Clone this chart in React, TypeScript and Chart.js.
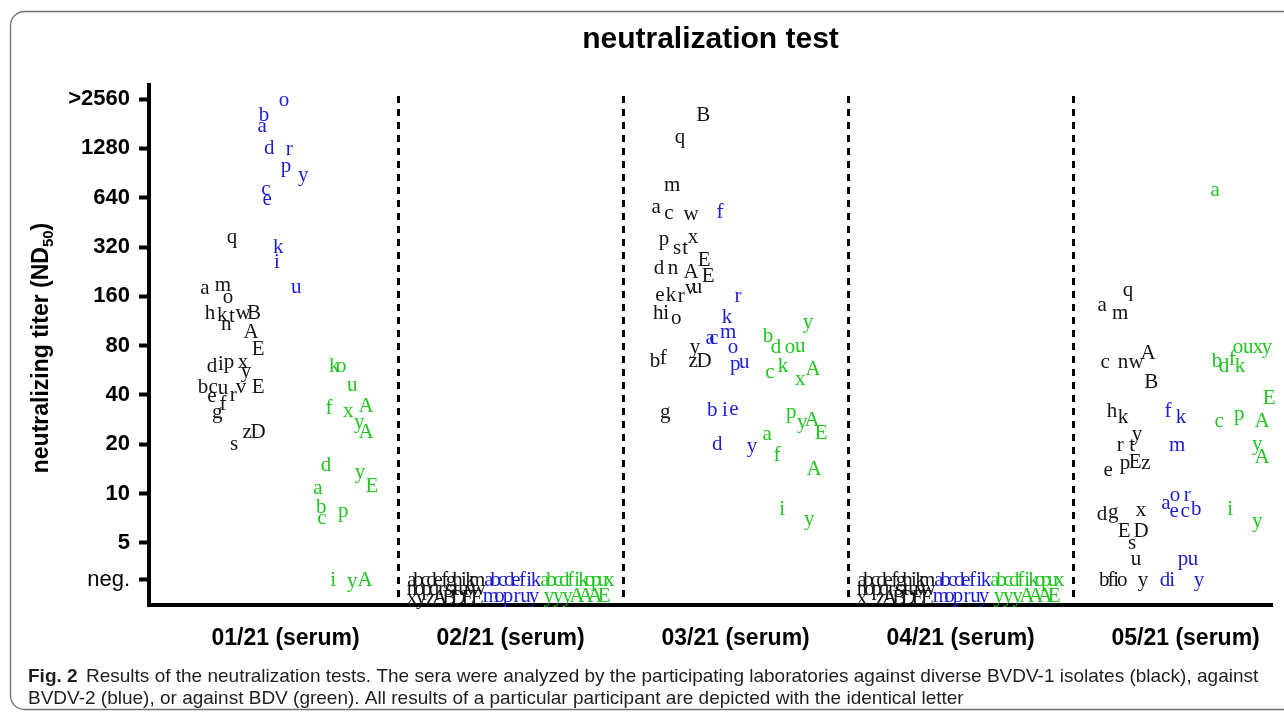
import React, { useEffect, useRef } from "react";
import { Chart, registerables } from "chart.js";

Chart.register(...registerables);

// ---------- text ----------
const TITLE = "neutralization test";
const Y_TITLE_MAIN = "neutralizing titer (ND";
const Y_TITLE_SUB = "50";
const Y_TITLE_END = ")";
const CATEGORY_LABELS = ["01/21 (serum)", "02/21 (serum)", "03/21 (serum)", "04/21 (serum)", "05/21 (serum)"];
const CATEGORY_POS = [0.5, 1.5, 2.5, 3.5, 4.5];
const SEPARATORS = [1, 2, 3, 4];
// y positions on the doubling-dilution scale: 5 = 1, 10 = 2, ... 2560 = 10, neg. = 0.25
const Y_TICK_VALUES = [0.25, 1, 2, 3, 4, 5, 6, 7, 8, 9, 10];
const Y_TICK_LABELS = ["neg.", "5", "10", "20", "40", "80", "160", "320", "640", "1280", ">2560"];
const CAPTION_BOLD = "Fig. 2";
const CAPTION_1 = "Results of the neutralization tests. The sera were analyzed by the participating laboratories against diverse BVDV-1 isolates (black), against";
const CAPTION_2 = "BVDV-2 (blue), or against BDV (green). All results of a particular participant are depicted with the identical letter";

// ---------- data: 01/21 ----------
const g1BlackLetters = "amohkntwBAEdipxybceurvEgfzDsq";
const g1BlackX = [0.142, 0.222, 0.244, 0.164, 0.218, 0.236, 0.262, 0.311, 0.36, 0.347, 0.378, 0.173, 0.213, 0.249, 0.311, 0.324, 0.133, 0.178, 0.173, 0.222, 0.267, 0.302, 0.378, 0.196, 0.222, 0.329, 0.378, 0.271, 0.262];
const g1BlackY = [6.15, 6.23, 5.97, 5.66, 5.62, 5.42, 5.6, 5.66, 5.66, 5.26, 4.93, 4.57, 4.61, 4.65, 4.65, 4.47, 4.16, 4.16, 3.96, 4.14, 3.98, 4.16, 4.16, 3.64, 3.8, 3.23, 3.25, 2.99, 7.2];
const g1BlueLetters = "obadrpyceiku";
const g1BlueX = [0.493, 0.404, 0.396, 0.427, 0.516, 0.502, 0.578, 0.413, 0.418, 0.462, 0.467, 0.547];
const g1BlueY = [9.98, 9.66, 9.45, 8.99, 8.97, 8.64, 8.44, 8.16, 7.97, 6.68, 7.0, 6.17];
const g1GreenLetters = "koufxAyAdyEabcpiyA";
const g1GreenX = [0.716, 0.747, 0.796, 0.693, 0.778, 0.858, 0.827, 0.858, 0.68, 0.831, 0.884, 0.644, 0.658, 0.662, 0.756, 0.711, 0.796, 0.853];
const g1GreenY = [4.57, 4.57, 4.2, 3.72, 3.66, 3.76, 3.45, 3.25, 2.58, 2.42, 2.14, 2.11, 1.71, 1.49, 1.63, 0.25, 0.21, 0.25];

// ---------- data: 02/21 ----------
const g2BlackLetters = "abcdefghikmnopqrstuvwxyzABDEE";
const g2BlackX = [1.062, 1.091, 1.12, 1.149, 1.178, 1.207, 1.235, 1.264, 1.293, 1.322, 1.351, 1.062, 1.095, 1.127, 1.16, 1.193, 1.225, 1.258, 1.291, 1.323, 1.356, 1.062, 1.103, 1.145, 1.186, 1.227, 1.268, 1.31, 1.351];
const g2BlackY = [0.25, 0.25, 0.25, 0.25, 0.25, 0.25, 0.25, 0.25, 0.25, 0.25, 0.25, 0.05, 0.05, 0.05, 0.05, 0.05, 0.05, 0.05, 0.05, 0.05, 0.05, -0.12, -0.12, -0.12, -0.12, -0.12, -0.12, -0.12, -0.12];
const g2BlueLetters = "abcdefikmopruy";
const g2BlueX = [1.404, 1.434, 1.464, 1.494, 1.524, 1.553, 1.583, 1.613, 1.413, 1.451, 1.489, 1.528, 1.566, 1.604];
const g2BlueY = [0.25, 0.25, 0.25, 0.25, 0.25, 0.25, 0.25, 0.25, -0.09, -0.09, -0.09, -0.09, -0.09, -0.09];
const g2GreenLetters = "abcdfikopuxyyyAAAE";
const g2GreenX = [1.653, 1.682, 1.71, 1.739, 1.767, 1.796, 1.824, 1.853, 1.881, 1.91, 1.938, 1.671, 1.712, 1.753, 1.794, 1.834, 1.875, 1.916];
const g2GreenY = [0.25, 0.25, 0.25, 0.25, 0.25, 0.25, 0.25, 0.25, 0.25, 0.25, 0.25, -0.09, -0.09, -0.09, -0.09, -0.09, -0.09, -0.09];

// ---------- data: 03/21 ----------
const g3BlackLetters = "BqmacwpstxdnAEEekrvuhioyzDbfg";
const g3BlackX = [2.356, 2.253, 2.218, 2.147, 2.204, 2.302, 2.182, 2.24, 2.276, 2.311, 2.16, 2.222, 2.302, 2.36, 2.378, 2.164, 2.213, 2.258, 2.298, 2.329, 2.156, 2.191, 2.236, 2.32, 2.311, 2.36, 2.142, 2.178, 2.187];
const g3BlackY = [9.66, 9.21, 8.24, 7.81, 7.67, 7.65, 7.16, 6.98, 6.98, 7.2, 6.57, 6.57, 6.49, 6.72, 6.41, 6.01, 6.01, 5.99, 6.15, 6.17, 5.66, 5.66, 5.56, 4.97, 4.67, 4.67, 4.67, 4.75, 3.64];
const g3BlueLetters = "frkacmopubiedy";
const g3BlueX = [2.431, 2.511, 2.462, 2.387, 2.404, 2.467, 2.489, 2.498, 2.538, 2.396, 2.453, 2.493, 2.418, 2.573];
const g3BlueY = [7.69, 5.99, 5.58, 5.14, 5.14, 5.26, 4.97, 4.61, 4.65, 3.68, 3.68, 3.7, 2.99, 2.95];
const g3GreenLetters = "bdouyckxApyAEafAiy";
const g3GreenX = [2.644, 2.68, 2.742, 2.787, 2.822, 2.653, 2.711, 2.787, 2.844, 2.747, 2.796, 2.84, 2.88, 2.64, 2.684, 2.849, 2.707, 2.827];
const g3GreenY = [5.18, 4.97, 4.97, 4.99, 5.46, 4.45, 4.57, 4.32, 4.51, 3.64, 3.45, 3.49, 3.21, 3.19, 2.78, 2.48, 1.67, 1.47];

// ---------- data: 04/21 ----------
const g4BlackLetters = "abcdefghikmnopqrstuvwxzABDEE";
const g4BlackX = [3.062, 3.091, 3.12, 3.149, 3.178, 3.207, 3.235, 3.264, 3.293, 3.322, 3.351, 3.062, 3.095, 3.127, 3.16, 3.193, 3.225, 3.258, 3.291, 3.323, 3.356, 3.062, 3.145, 3.186, 3.227, 3.268, 3.31, 3.351];
const g4BlackY = [0.25, 0.25, 0.25, 0.25, 0.25, 0.25, 0.25, 0.25, 0.25, 0.25, 0.25, 0.05, 0.05, 0.05, 0.05, 0.05, 0.05, 0.05, 0.05, 0.05, 0.05, -0.12, -0.12, -0.12, -0.12, -0.12, -0.12, -0.12];
const g4BlueLetters = "abcdefikmopruy";
const g4BlueX = [3.404, 3.434, 3.464, 3.494, 3.524, 3.553, 3.583, 3.613, 3.413, 3.451, 3.489, 3.528, 3.566, 3.604];
const g4BlueY = [0.25, 0.25, 0.25, 0.25, 0.25, 0.25, 0.25, 0.25, -0.09, -0.09, -0.09, -0.09, -0.09, -0.09];
const g4GreenLetters = "abcdfikopuxyyyAAAE";
const g4GreenX = [3.653, 3.682, 3.71, 3.739, 3.767, 3.796, 3.824, 3.853, 3.881, 3.91, 3.938, 3.671, 3.712, 3.753, 3.794, 3.834, 3.875, 3.916];
const g4GreenY = [0.25, 0.25, 0.25, 0.25, 0.25, 0.25, 0.25, 0.25, 0.25, 0.25, 0.25, -0.09, -0.09, -0.09, -0.09, -0.09, -0.09, -0.09];

// ---------- data: 05/21 ----------
const g5BlackLetters = "qamcnwABhkrtyepEzdgxEDsubfioy";
const g5BlackX = [4.244, 4.129, 4.209, 4.142, 4.222, 4.28, 4.333, 4.347, 4.173, 4.222, 4.209, 4.262, 4.284, 4.156, 4.231, 4.276, 4.324, 4.129, 4.178, 4.302, 4.227, 4.302, 4.262, 4.28, 4.138, 4.169, 4.191, 4.218, 4.311];
const g5BlackY = [6.11, 5.82, 5.66, 4.65, 4.65, 4.65, 4.85, 4.26, 3.66, 3.55, 2.97, 2.97, 3.19, 2.46, 2.62, 2.64, 2.62, 1.57, 1.61, 1.65, 1.24, 1.24, 1.0, 0.66, 0.25, 0.25, 0.25, 0.25, 0.23];
const g5BlueLetters = "fkmaorecbpudiy";
const g5BlueX = [4.422, 4.48, 4.462, 4.413, 4.453, 4.507, 4.449, 4.498, 4.547, 4.489, 4.533, 4.409, 4.44, 4.56];
const g5BlueY = [3.66, 3.55, 2.97, 1.81, 1.97, 1.97, 1.63, 1.63, 1.67, 0.66, 0.66, 0.25, 0.25, 0.23];
const g5GreenLetters = "abdfkouxyEcpAyAiy";
const g5GreenX = [4.631, 4.64, 4.671, 4.707, 4.742, 4.733, 4.778, 4.822, 4.862, 4.871, 4.649, 4.738, 4.84, 4.818, 4.84, 4.698, 4.818];
const g5GreenY = [8.14, 4.67, 4.57, 4.71, 4.57, 4.97, 4.97, 4.97, 4.97, 3.92, 3.47, 3.61, 3.47, 2.99, 2.74, 1.67, 1.43];

// ---------- styles ----------
const BLACK = "#141414";
const BLUE = "#1c1cd2";
const GREEN = "#20c520";

const SERIES = [
  { l: g1BlackLetters, x: g1BlackX, y: g1BlackY, c: BLACK },
  { l: g1BlueLetters, x: g1BlueX, y: g1BlueY, c: BLUE },
  { l: g1GreenLetters, x: g1GreenX, y: g1GreenY, c: GREEN },
  { l: g2BlackLetters, x: g2BlackX, y: g2BlackY, c: BLACK },
  { l: g2BlueLetters, x: g2BlueX, y: g2BlueY, c: BLUE },
  { l: g2GreenLetters, x: g2GreenX, y: g2GreenY, c: GREEN },
  { l: g3BlackLetters, x: g3BlackX, y: g3BlackY, c: BLACK },
  { l: g3BlueLetters, x: g3BlueX, y: g3BlueY, c: BLUE },
  { l: g3GreenLetters, x: g3GreenX, y: g3GreenY, c: GREEN },
  { l: g4BlackLetters, x: g4BlackX, y: g4BlackY, c: BLACK },
  { l: g4BlueLetters, x: g4BlueX, y: g4BlueY, c: BLUE },
  { l: g4GreenLetters, x: g4GreenX, y: g4GreenY, c: GREEN },
  { l: g5BlackLetters, x: g5BlackX, y: g5BlackY, c: BLACK },
  { l: g5BlueLetters, x: g5BlueX, y: g5BlueY, c: BLUE },
  { l: g5GreenLetters, x: g5GreenX, y: g5GreenY, c: GREEN },
];

const SANS = "'Liberation Sans', Arial, sans-serif";
const SERIF = "'Liberation Serif', 'Times New Roman', serif";

const lettersPlugin = {
  id: "letters",
  afterDatasetsDraw(chart: any) {
    const ctx = chart.ctx;
    ctx.save();
    ctx.font = `21px ${SERIF}`;
    ctx.textAlign = "center";
    ctx.textBaseline = "middle";
    chart.data.datasets.forEach((ds: any, di: number) => {
      const meta = chart.getDatasetMeta(di);
      ctx.fillStyle = ds.letterColor;
      meta.data.forEach((el: any, i: number) => {
        ctx.fillText(ds.letters[i], el.x, el.y);
      });
    });
    ctx.restore();
  },
};

const separatorPlugin = {
  id: "separators",
  beforeDatasetsDraw(chart: any) {
    const { ctx, chartArea } = chart;
    const xs = chart.scales.x;
    ctx.save();
    ctx.strokeStyle = "#000";
    ctx.lineWidth = 3;
    ctx.setLineDash([7, 6]);
    SEPARATORS.forEach((v) => {
      const px = Math.round(xs.getPixelForValue(v)) + 0.5;
      ctx.beginPath();
      ctx.moveTo(px, chartArea.top + 11);
      ctx.lineTo(px, chartArea.bottom);
      ctx.stroke();
    });
    ctx.restore();
  },
};

const decorPlugin = {
  id: "decor",
  beforeDraw(chart: any) {
    const ctx = chart.ctx;
    ctx.save();
    ctx.fillStyle = "#fff";
    ctx.fillRect(0, 0, chart.width, chart.height);
    ctx.restore();
  },
  afterDraw(chart: any) {
    const { ctx, chartArea } = chart;
    ctx.save();
    // frame
    ctx.strokeStyle = "#6e6e6e";
    ctx.lineWidth = 1.3;
    ctx.beginPath();
    (ctx as any).roundRect(10.5, 11.5, 1300, 698, 14);
    ctx.stroke();

    // title
    ctx.fillStyle = "#000";
    ctx.font = `bold 30px ${SANS}`;
    ctx.textAlign = "center";
    ctx.textBaseline = "alphabetic";
    ctx.fillText(TITLE, (chartArea.left + chartArea.right) / 2, 48);

    // y title
    ctx.save();
    ctx.translate(48, (chartArea.top + chartArea.bottom) / 2 + 3);
    ctx.rotate(-Math.PI / 2);
    const mainFont = `bold 23px ${SANS}`;
    const subFont = `bold 15px ${SANS}`;
    ctx.font = mainFont;
    const w1 = ctx.measureText(Y_TITLE_MAIN).width;
    const w3 = ctx.measureText(Y_TITLE_END).width;
    ctx.font = subFont;
    const w2 = ctx.measureText(Y_TITLE_SUB).width;
    const total = w1 + w2 + w3;
    const x0 = -total / 2;
    ctx.textAlign = "left";
    ctx.font = mainFont;
    ctx.fillText(Y_TITLE_MAIN, x0, 0);
    ctx.font = subFont;
    ctx.fillText(Y_TITLE_SUB, x0 + w1, 5);
    ctx.font = mainFont;
    ctx.fillText(Y_TITLE_END, x0 + w1 + w2, 0);
    ctx.restore();

    // caption
    ctx.textAlign = "left";
    ctx.fillStyle = "#1e1e1e";
    ctx.font = `bold 19px ${SANS}`;
    ctx.fillText(CAPTION_BOLD, 28, 682);
    ctx.font = `19px ${SANS}`;
    ctx.fillText(CAPTION_1, 86, 682, 1176);
    ctx.fillText(CAPTION_2, 28, 704, 937);
    ctx.restore();
  },
};

export default function App() {
  const ref = useRef<HTMLCanvasElement | null>(null);

  useEffect(() => {
    document.body.style.margin = "0";
    const canvas = ref.current;
    if (!canvas) return;
    const datasets = SERIES.map((s) => ({
      type: "scatter" as const,
      data: s.x.map((xv, i) => ({ x: xv, y: s.y[i] })),
      pointRadius: 0,
      pointHoverRadius: 0,
      showLine: false,
      letters: s.l.split(""),
      letterColor: s.c,
    }));

    const chart = new Chart(canvas, {
      type: "scatter",
      data: { datasets: datasets as any },
      options: {
        responsive: false,
        animation: false,
        devicePixelRatio: 1,
        layout: { padding: { left: 0, right: 12, top: 85, bottom: 0 } },
        plugins: {
          legend: { display: false },
          title: { display: false },
          tooltip: { enabled: false },
        },
        events: [],
        scales: {
          x: {
            type: "linear",
            min: -0.107,
            max: 4.884,
            afterBuildTicks: (scale: any) => {
              scale.ticks = CATEGORY_POS.map((v) => ({ value: v }));
            },
            afterFit: (scale: any) => {
              scale.height = 112;
            },
            ticks: {
              autoSkip: false,
              maxRotation: 0,
              padding: 20,
              color: "#000",
              font: { family: SANS, size: 23, weight: "bold" },
              callback: (_v: any, i: number) => CATEGORY_LABELS[i],
            },
            grid: { display: true, drawOnChartArea: false, drawTicks: false },
            border: { display: true, width: 4, color: "#000" },
          },
          y: {
            type: "linear",
            min: -0.257,
            max: 10.284,
            afterBuildTicks: (scale: any) => {
              scale.ticks = Y_TICK_VALUES.map((v) => ({ value: v }));
            },
            afterFit: (scale: any) => {
              scale.width = 149;
            },
            ticks: {
              autoSkip: false,
              padding: 9,
              color: "#000",
              font: (c: any) => ({
                family: SANS,
                size: 22,
                weight: c.index === 0 ? "normal" : "bold",
              }),
              callback: (_v: any, i: number) => Y_TICK_LABELS[i],
            },
            grid: {
              display: true,
              drawOnChartArea: false,
              drawTicks: true,
              tickLength: 10,
              tickWidth: 4,
              tickColor: "#000",
              color: "#000",
            },
            border: { display: true, width: 4, color: "#000" },
          },
        },
      } as any,
      plugins: [decorPlugin, separatorPlugin, lettersPlugin],
    });
    return () => chart.destroy();
  }, []);

  return (
    <div style={{ width: 1284, height: 717, position: "relative" }}>
      <canvas ref={ref} width={1284} height={717} style={{ display: "block" }} />
    </div>
  );
}
